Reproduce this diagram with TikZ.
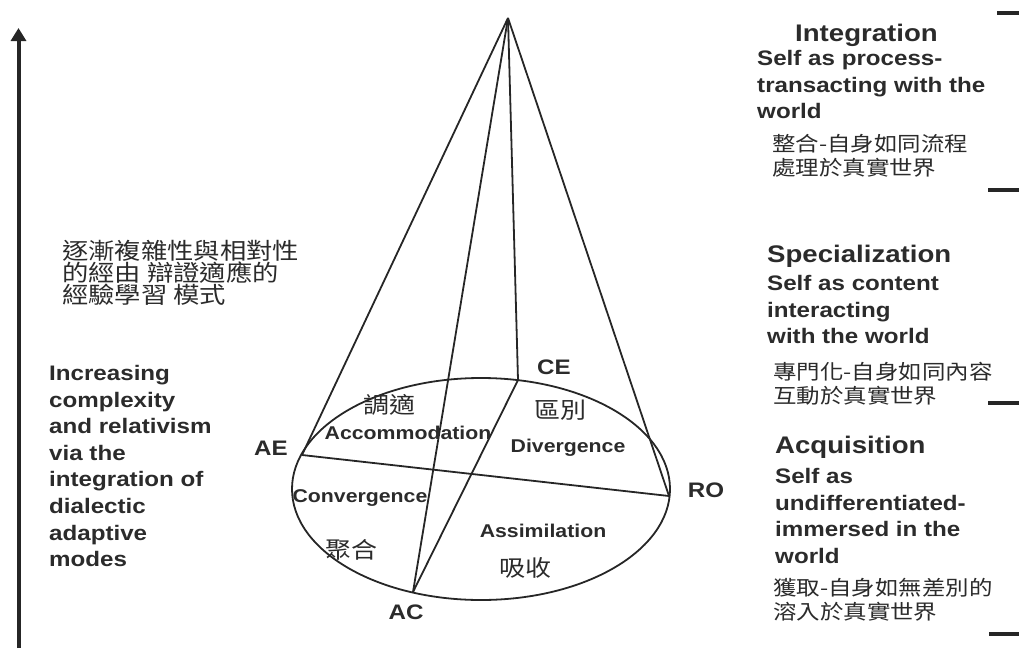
\documentclass[tikz,border=0pt]{standalone}
\usepackage{fontspec}
\setmainfont{Liberation Sans}[FakeStretch=1.15]
\newfontfamily\cjk{Noto Sans CJK TC}[FakeStretch=1.15]
\usepackage{tikz}
\usetikzlibrary{arrows.meta}
\definecolor{inkgray}{gray}{0.17}

\begin{document}
\lineskiplimit=-20pt
\begin{tikzpicture}[x=1pt,y=-1pt,
    every node/.style={inner sep=0pt, text=inkgray},
    corner/.style={font=\fontsize{21}{25}\selectfont\bfseries},
    mode/.style={font=\fontsize{18.5}{22}\selectfont\bfseries},
    zh/.style={font=\cjk\fontsize{22.6}{26}\selectfont},
    head/.style={anchor=base west, font=\fontsize{24}{28}\selectfont\bfseries},
    body/.style={anchor=north west, align=left, font=\fontsize{21}{26.6}\selectfont\bfseries},
    zhbody/.style={anchor=north west, align=left, font=\cjk\fontsize{20.4}{24}\selectfont},
    edge/.style={line width=1.8pt, black!85, line join=round},
    tick/.style={line width=4pt, black!85}]
  \useasboundingbox (0,0) rectangle (1019,648);

  % cone over the learning circle
  \coordinate (apex) at (508,18);
  \coordinate (ctr)  at (481,489);
  \coordinate (AE) at (302,455);
  \coordinate (CE) at (518,380);
  \coordinate (RO) at (669,496);
  \coordinate (AC) at (413,592);
  \draw[edge] (ctr) ellipse [x radius=189pt, y radius=111pt];
  \foreach \p in {AE,CE,RO,AC} \draw[edge] (apex) -- (\p);
  \draw[edge] (AE) -- (RO);
  \draw[edge] (CE) -- (AC);

  \node[corner] (lAE) at (271,448) {AE};
  \node[corner] (lCE) at (554,367) {CE};
  \node[corner] (lRO) at (706,490) {RO};
  \node[corner] (lAC) at (406,612) {AC};

  \node[mode] (acc) at (408,433) {Accommodation};
  \node[mode] (div) at (568,448) {Divergence};
  \node[mode] (con) at (360,498) {Convergence};
  \node[mode] (ass) at (543,531) {Assimilation};
  \node[zh] (zacc) at (389,405) {調適};
  \node[zh] (zdiv) at (560,410) {區別};
  \node[zh] (zcon) at (351,550) {聚合};
  \node[zh] (zass) at (525,568) {吸收};

  % left axis
  \coordinate (axbot) at (18.5,648);
  \coordinate (axtop) at (18.5,28);
  \draw[line width=4pt, black!85, -{Triangle[length=13pt,width=15pt]}] (axbot) -- (axtop);
  \node[zhbody, font=\cjk\fontsize{22.9}{22}\selectfont] (leftzh) at (62,240)
    {逐漸複雜性與相對性\\的經由 辯證適應的\\經驗學習 模式};
  \node[body] (lefttxt) at (49,365)
    {Increasing\\complexity\\and relativism\\via the\\integration of\\dialectic\\adaptive\\modes};

  % right levels
  \draw[tick] (997,12.5) -- (1019,12.5);
  \draw[tick] (988,190) -- (1019,190);
  \draw[tick] (988,403) -- (1019,403);
  \draw[tick] (989,634) -- (1019,634);

  \node[head] (integ) at (795,41) {Integration};
  \node[body] (integtxt) at (757,50) {Self as process-\\transacting with the\\world};
  \node[zhbody] (integzh) at (772,134) {整合-自身如同流程\\處理於真實世界};

  \node[head] (spec) at (767,262) {Specialization};
  \node[body] (spectxt) at (767,275) {Self as content\\interacting\\with the world};
  \node[zhbody] (speczh) at (773,362) {專門化-自身如同內容\\互動於真實世界};

  \node[head] (acq) at (775,453) {Acquisition};
  \node[body] (acqtxt) at (775,468) {Self as\\undifferentiated-\\immersed in the\\world};
  \node[zhbody] (acqzh) at (773,578) {獲取-自身如無差別的\\溶入於真實世界};
\end{tikzpicture}
\end{document}
